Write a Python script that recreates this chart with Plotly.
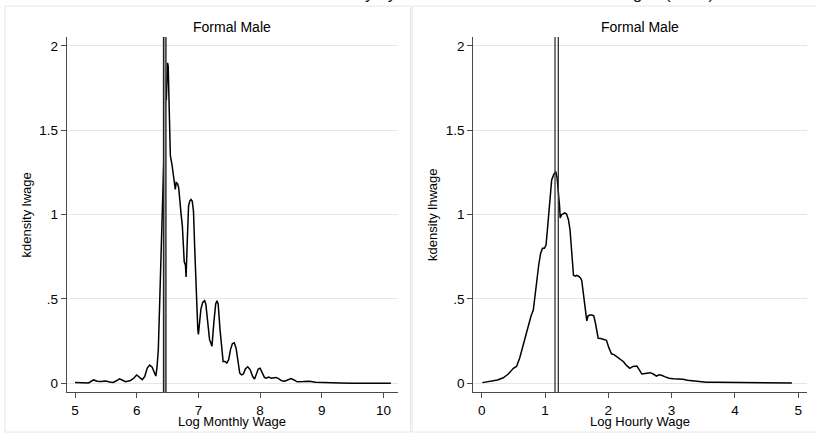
import plotly.graph_objects as go

W, H = 816, 441

# ---------------- data ----------------
monthly_x = [5.00, 5.08, 5.15, 5.22, 5.30, 5.36, 5.42, 5.50, 5.56, 5.62, 5.67, 5.72, 5.77, 5.82,
             5.90, 5.95, 6.00, 6.05, 6.09, 6.13, 6.17, 6.21, 6.25, 6.29, 6.31, 6.33, 6.35, 6.37,
             6.39, 6.405, 6.42, 6.44, 6.46, 6.47, 6.48, 6.49, 6.50, 6.51, 6.53, 6.545, 6.57, 6.59,
             6.61, 6.625, 6.64, 6.66, 6.68, 6.70, 6.72, 6.74, 6.755, 6.77, 6.79, 6.80, 6.82, 6.84,
             6.86, 6.88, 6.90, 6.92, 6.94, 6.96, 6.98, 6.99, 7.00, 7.02, 7.04, 7.07, 7.10, 7.12,
             7.15, 7.18, 7.20, 7.22, 7.25, 7.28, 7.30, 7.32, 7.35, 7.38, 7.40, 7.43, 7.46, 7.49,
             7.52, 7.55, 7.58, 7.61, 7.64, 7.67, 7.70, 7.73, 7.76, 7.80, 7.84, 7.88, 7.91, 7.94,
             7.97, 8.00, 8.03, 8.07, 8.10, 8.14, 8.18, 8.22, 8.26, 8.30, 8.35, 8.40, 8.45, 8.50,
             8.55, 8.60, 8.70, 8.80, 8.90, 9.00, 9.10, 9.20, 9.30, 9.50, 9.80, 10.12]
monthly_density = [0.005, 0.003, 0.001, 0.002, 0.020, 0.012, 0.010, 0.013, 0.008, 0.005, 0.015, 0.027, 0.018, 0.009,
                   0.017, 0.030, 0.049, 0.035, 0.022, 0.040, 0.090, 0.108, 0.095, 0.060, 0.043, 0.100, 0.200, 0.450,
                   0.700, 0.870, 1.100, 1.450, 1.640, 1.720, 1.680, 1.800, 1.900, 1.880, 1.600, 1.350, 1.300, 1.235,
                   1.180, 1.150, 1.190, 1.185, 1.160, 1.050, 1.000, 0.930, 0.780, 0.720, 0.700, 0.630, 0.850, 1.050,
                   1.080, 1.090, 1.080, 1.020, 0.800, 0.550, 0.400, 0.320, 0.290, 0.360, 0.440, 0.480, 0.490, 0.470,
                   0.360, 0.260, 0.240, 0.220, 0.360, 0.470, 0.490, 0.470, 0.320, 0.180, 0.130, 0.130, 0.120, 0.140,
                   0.200, 0.235, 0.240, 0.210, 0.120, 0.060, 0.050, 0.055, 0.085, 0.098, 0.080, 0.040, 0.025, 0.050,
                   0.085, 0.090, 0.070, 0.035, 0.030, 0.037, 0.030, 0.032, 0.035, 0.028, 0.015, 0.013, 0.020, 0.028,
                   0.020, 0.009, 0.010, 0.012, 0.007, 0.005, 0.003, 0.004, 0.002, 0.001, 0.001, 0.000]

hourly_x = [0.01, 0.10, 0.18, 0.25, 0.34, 0.42, 0.50, 0.55, 0.60, 0.66, 0.70, 0.74, 0.78, 0.815, 0.84,
            0.87, 0.90, 0.93, 0.96, 0.99, 1.016, 1.04, 1.07, 1.105, 1.14, 1.17, 1.19, 1.21, 1.23, 1.24,
            1.26, 1.28, 1.31, 1.34, 1.37, 1.395, 1.42, 1.45, 1.48, 1.50, 1.53, 1.56, 1.58, 1.62, 1.66,
            1.68, 1.71, 1.74, 1.77, 1.80, 1.84, 1.88, 1.92, 1.97, 2.01, 2.05, 2.09, 2.13, 2.18, 2.24,
            2.29, 2.34, 2.39, 2.45, 2.49, 2.53, 2.58, 2.66, 2.71, 2.76, 2.80, 2.84, 2.90, 2.96, 3.03,
            3.10, 3.18, 3.25, 3.35, 3.45, 3.55, 3.70, 3.90, 4.12, 4.50, 4.90]
hourly_density = [0.004, 0.010, 0.016, 0.020, 0.033, 0.055, 0.089, 0.100, 0.150, 0.237, 0.290, 0.336, 0.400, 0.434, 0.520,
                  0.600, 0.700, 0.770, 0.800, 0.800, 0.820, 0.920, 1.080, 1.205, 1.240, 1.255, 1.220, 1.146, 1.050, 0.980,
                  1.000, 1.003, 1.010, 1.003, 0.970, 0.910, 0.780, 0.640, 0.635, 0.640, 0.635, 0.625, 0.610, 0.500, 0.370,
                  0.400, 0.405, 0.405, 0.400, 0.350, 0.267, 0.265, 0.260, 0.255, 0.210, 0.175, 0.170, 0.160, 0.148, 0.128,
                  0.105, 0.089, 0.100, 0.102, 0.080, 0.055, 0.058, 0.063, 0.055, 0.043, 0.050, 0.048, 0.038, 0.030, 0.027,
                  0.026, 0.024, 0.018, 0.013, 0.010, 0.007, 0.006, 0.005, 0.004, 0.002, 0.002]

monthly_ref_lines = [6.434, 6.474]
hourly_ref_lines = [1.158, 1.210]

y_tickvals = [0, 0.5, 1, 1.5, 2]
y_ticktext = ["0", ".5", "1", "1.5", "2"]
monthly_tickvals = [5, 6, 7, 8, 9, 10]
hourly_tickvals = [0, 1, 2, 3, 4, 5]

panel_titles = ["Formal Male", "Formal Male"]
x_titles = ["Log Monthly Wage", "Log Hourly Wage"]
y_titles = ["kdensity lwage", "kdensity lhwage"]
top_title = "Kernel Density by Sector and Gender of Real Wages (2010)"

# ---------------- figure ----------------
def px_x(p):
    return p / W

def px_y(p):
    return 1 - p / H

FONT = "Liberation Sans, Arial, sans-serif"

fig = go.Figure()
fig.add_trace(go.Scatter(x=monthly_x, y=monthly_density, mode="lines",
                         line=dict(color="black", width=1.5), xaxis="x", yaxis="y",
                         showlegend=False))
fig.add_trace(go.Scatter(x=hourly_x, y=hourly_density, mode="lines",
                         line=dict(color="black", width=1.5), xaxis="x2", yaxis="y2",
                         showlegend=False))

shapes = []
# panel borders
shapes.append(dict(type="rect", xref="paper", yref="paper", x0=px_x(5), x1=px_x(410.5),
                   y0=px_y(432), y1=px_y(6), line=dict(color="#e6e6e6", width=1)))
shapes.append(dict(type="rect", xref="paper", yref="paper", x0=px_x(412), x1=px_x(830),
                   y0=px_y(432), y1=px_y(6), line=dict(color="#e6e6e6", width=1)))
# shaded band between monthly reference lines
shapes.append(dict(type="rect", xref="x", yref="y domain", x0=monthly_ref_lines[0], x1=monthly_ref_lines[1],
                   y0=0, y1=1, fillcolor="#aaaaaa", line=dict(width=0), layer="above"))
for v in monthly_ref_lines:
    shapes.append(dict(type="line", xref="x", yref="y domain", x0=v, x1=v, y0=0, y1=1,
                       line=dict(color="#222222", width=1.3), layer="above"))
for v in hourly_ref_lines:
    shapes.append(dict(type="line", xref="x2", yref="y2 domain", x0=v, x1=v, y0=0, y1=1,
                       line=dict(color="#333333", width=1.3), layer="above"))

ann = []
for i, cx in enumerate([232.4, 640]):
    ann.append(dict(text=panel_titles[i], x=px_x(cx), y=px_y(27), xref="paper", yref="paper",
                    showarrow=False, xanchor="center", yanchor="middle",
                    font=dict(family=FONT, size=14, color="black")))
    ann.append(dict(text=x_titles[i], x=px_x(cx), y=px_y(421), xref="paper", yref="paper",
                    showarrow=False, xanchor="center", yanchor="middle", borderpad=0,
                    font=dict(family=FONT, size=13, color="black")))
for i, cx in enumerate([26.5, 433]):
    ann.append(dict(text=y_titles[i], x=px_x(cx), y=px_y(215), xref="paper", yref="paper",
                    showarrow=False, xanchor="center", yanchor="middle", textangle=-90,
                    font=dict(family=FONT, size=13, color="black")))
ann.append(dict(text=top_title, x=px_x(716), y=px_y(-7), xref="paper", yref="paper",
                showarrow=False, xanchor="right", yanchor="middle",
                font=dict(family=FONT, size=17, color="#1a1a1a")))

axis_common = dict(showline=True, linecolor="#4a4a4a", linewidth=1, ticks="outside", ticklen=5,
                   tickcolor="#4a4a4a", tickwidth=1, zeroline=False,
                   tickfont=dict(family=FONT, size=13.5, color="black"))

fig.update_layout(
    width=W, height=H,
    margin=dict(l=0, r=0, t=0, b=0),
    paper_bgcolor="white", plot_bgcolor="white",
    showlegend=False,
    xaxis=dict(domain=[px_x(66.7), px_x(398)], range=[4.865, 10.235], tickvals=monthly_tickvals,
               showgrid=False, anchor="y", **axis_common),
    yaxis=dict(domain=[px_y(392.3), px_y(37)], range=[-0.0533, 2.053], tickvals=y_tickvals,
               ticktext=y_ticktext, showgrid=True, gridcolor="#e6e6e6", gridwidth=1,
               anchor="x", **axis_common),
    xaxis2=dict(domain=[px_x(473.3), px_x(806.7)], range=[-0.133, 5.134], tickvals=hourly_tickvals,
                showgrid=False, anchor="y2", **axis_common),
    yaxis2=dict(domain=[px_y(392.3), px_y(37)], range=[-0.0533, 2.053], tickvals=y_tickvals,
                ticktext=y_ticktext, showgrid=True, gridcolor="#e6e6e6", gridwidth=1,
                anchor="x2", **axis_common),
    shapes=shapes,
    annotations=ann,
)

fig.write_html("out.html", config={"displayModeBar": False},
               post_script="document.body.style.margin='0';document.body.style.overflow='hidden';")
